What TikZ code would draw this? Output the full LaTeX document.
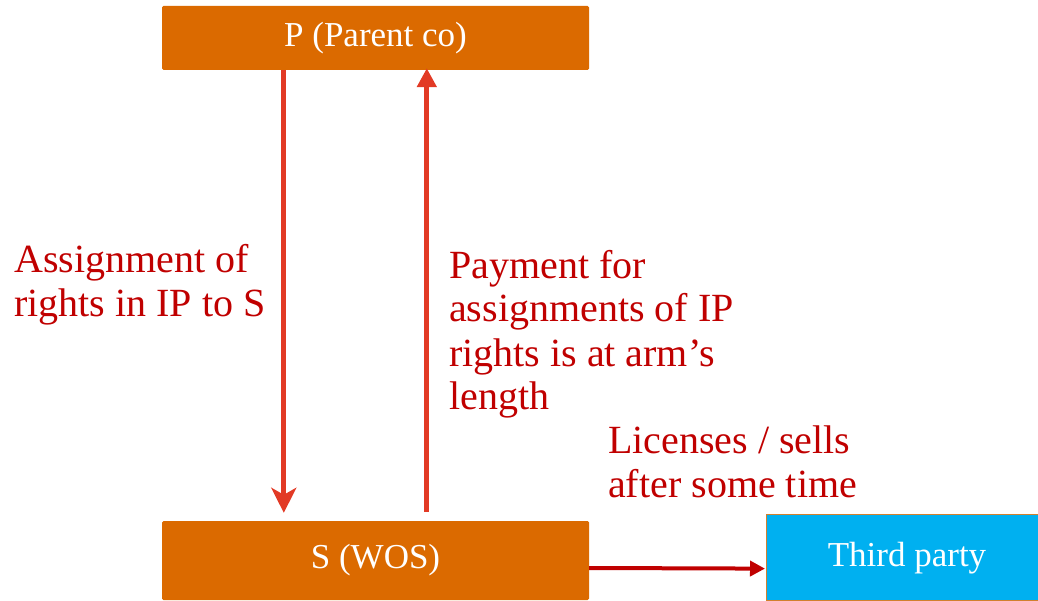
\documentclass[tikz,border=0pt]{standalone}
\usepackage{fontspec}
\setmainfont{Liberation Serif}
\usetikzlibrary{arrows.meta,calc}
\definecolor{boxorange}{HTML}{DB6A00}
\definecolor{boxblue}{HTML}{00B0F0}
\definecolor{flowred}{HTML}{E23A25}
\definecolor{labelred}{HTML}{C00000}
\begin{document}
\begin{tikzpicture}[x=1pt,y=1pt,
  entity/.style={fill=boxorange,draw=none,rounded corners=1.5pt,text=white,
    font=\fontsize{35}{40}\selectfont,inner sep=0pt},
  outsider/.style={fill=boxblue,draw=brown!70!orange,line width=0.8pt,text=white,
    font=\fontsize{35}{40}\selectfont,inner sep=0pt},
  flow/.style={draw=flowred,line width=5pt,-{Stealth[length=25pt,width=25pt,inset=7pt]}},
  flowup/.style={draw=flowred,line width=5pt,-{Triangle[length=19pt,width=19pt]}},
  sale/.style={draw=labelred,line width=4pt,-{Triangle[length=15pt,width=15pt]}},
  note/.style={text=labelred,align=left,inner sep=0pt,anchor=base west,
    font=\fontsize{40}{44}\selectfont}]
\useasboundingbox (0,0) rectangle (1038,600);

% the two group companies and the outside party
\node[entity,minimum width=427pt,minimum height=64pt] (P) at (375.5,562) {P (Parent co)};
\node[entity,minimum width=427pt,minimum height=79pt] (S) at (375.5,39.5) {S (WOS)};
\node[outsider,minimum width=274pt,minimum height=86pt,anchor=south west] (T) at (766,-1) {};
\node[text=white,font=\fontsize{35}{40}\selectfont] (Tl) at (907,42) {Third party};

% anchor points for the flows
\coordinate (pdown) at ($(P.south west)+(122,0)$);
\coordinate (sdown) at ($(S.north west)+(122,8)$);
\coordinate (sup)   at ($(S.north west)+(265,9)$);
\coordinate (pup)   at ($(P.south west)+(265,2)$);
\coordinate (sout)  at ($(S.east)+(0,-7.5)$);
\coordinate (tin)   at ($(T.west)+(-1,-11)$);

\draw[flow] (pdown) -- (sdown);
\draw[flowup] (sup) -- (pup);
\draw[sale] (sout) -- (tin);

% labels (positioned by the baseline of their last line)
\node[note] (assign) at (14,283) {Assignment of\\rights in IP to S};
\node[note] (pay) at (449,190) {Payment for\\assignments of IP\\rights is at arm’s\\length};
\node[note] (lic) at (608,103) {Licenses / sells\\after some time};
\end{tikzpicture}
\end{document}
